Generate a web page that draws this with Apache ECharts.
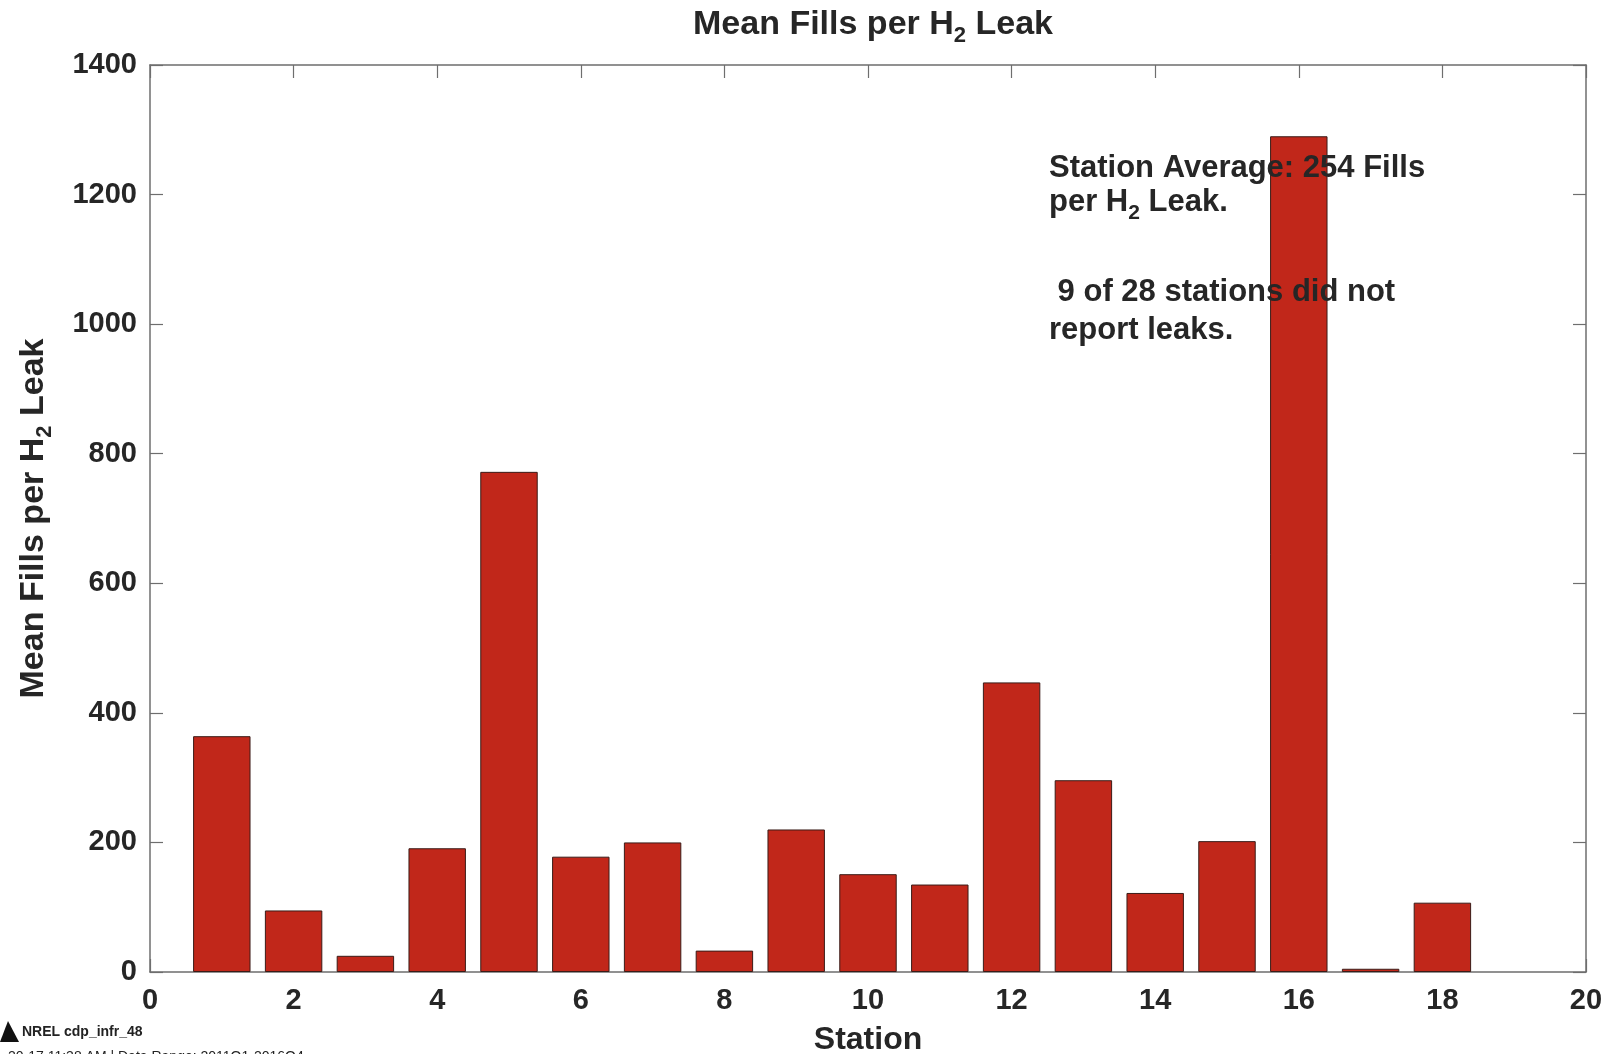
<!DOCTYPE html>
<html>
<head>
<meta charset="utf-8">
<script src="https://cdn.jsdelivr.net/npm/echarts@6/dist/echarts.min.js"></script>
<style>
html,body{margin:0;padding:0;background:#fff;}
#main{width:1616px;height:1054px;}
</style>
</head>
<body>
<div id="main"></div>
<script>
const stations = [1,2,3,4,5,6,7,8,9,10,11,12,13,14,15,16,17,18];
const meanFills = [364,95,25,191,772,178,200,33,220,151,135,447,296,122,202,1290,5,107];
const xTicks = {min:0, max:20, interval:2};
const yTicks = {min:0, max:1400, interval:200};
const titleText = ['Mean Fills per H','2',' Leak'];
const xTitle = 'Station';
const noteLines = ['Station Average: 254 Fills', 'per H', '2', ' Leak.', ' 9 of 28 stations did not', 'report leaks.'];
const footer1 = 'NREL cdp_infr_48';
const footer2 = '20-17 11:38 AM | Data Range: 2011Q1-2016Q4';

const FONT = '"Liberation Sans", Arial, Helvetica, sans-serif';
const TXT = '#262626';
const AX = '#6e6e6e';
const barData = stations.map((s,i)=>[s, meanFills[i]]);

const big = {fontFamily:FONT, fontWeight:'bold', fontSize:34, color:TXT};
const sub = {fontFamily:FONT, fontWeight:'bold', fontSize:22, color:TXT, padding:[22,0,0,0]};
const gBig = {fontFamily:FONT, fontWeight:'bold', fontSize:31, fill:TXT};
const gSub = {fontFamily:FONT, fontWeight:'bold', fontSize:21, fill:TXT, padding:[22,0,0,0]};

const chart = echarts.init(document.getElementById('main'), null, {renderer:'canvas'});
const axisCommon = {
  axisLine:{show:true, onZero:false, lineStyle:{color:AX, width:1.5}},
  axisTick:{show:true, inside:true, length:13, lineStyle:{color:AX, width:1.2}},
  splitLine:{show:false}
};
const plainNum = v => String(v);
chart.setOption({
  animation:false,
  backgroundColor:'#fff',
  title:{
    text:'{a|'+titleText[0]+'}{s|'+titleText[1]+'}{a|'+titleText[2]+'}',
    left:868, top:-2, textAlign:'center',
    textStyle:{rich:{a:big, s:sub}}
  },
  grid:{left:150, top:65, right:30, bottom:82, containLabel:false, outerBoundsMode:'none'},
  xAxis:[
    Object.assign({type:'value', position:'bottom', min:xTicks.min, max:xTicks.max, interval:xTicks.interval,
      name:xTitle, nameLocation:'middle', nameGap:52,
      nameTextStyle:{fontFamily:FONT, fontWeight:'bold', fontSize:32, color:TXT},
      axisLabel:{margin:14, fontFamily:FONT, fontWeight:'bold', fontSize:29, color:TXT, formatter:plainNum}}, axisCommon),
    Object.assign({type:'value', position:'top', min:xTicks.min, max:xTicks.max, interval:xTicks.interval,
      axisLabel:{show:false}}, axisCommon)
  ],
  yAxis:[
    Object.assign({type:'value', position:'left', min:yTicks.min, max:yTicks.max, interval:yTicks.interval,
      name:'{a|Mean Fills per H}{s|2}{a| Leak}', nameLocation:'middle', nameGap:94, nameRotate:90,
      nameTextStyle:{rich:{a:big, s:sub}},
      axisLabel:{margin:13, fontFamily:FONT, fontWeight:'bold', fontSize:29, color:TXT, formatter:plainNum}}, axisCommon),
    Object.assign({type:'value', position:'right', min:yTicks.min, max:yTicks.max, interval:yTicks.interval,
      axisLabel:{show:false}}, axisCommon)
  ],
  series:[{
    type:'bar', xAxisIndex:0, yAxisIndex:0,
    data:barData, barWidth:'80%',
    itemStyle:{color:'#C1271A', borderColor:'#3a1c18', borderWidth:1}
  }],
  graphic:[
    {type:'text', left:1049, top:153, z:100,
      style:{text:noteLines[0], font:'bold 31px '+FONT, fill:TXT}},
    {type:'text', left:1049, top:187, z:100,
      style:{text:'{a|'+noteLines[1]+'}{s|'+noteLines[2]+'}{a|'+noteLines[3]+'}',
        rich:{a:gBig, s:gSub}}},
    {type:'text', left:1049, top:277, z:100,
      style:{text:noteLines[4], font:'bold 31px '+FONT, fill:TXT, whiteSpace:'pre'}},
    {type:'text', left:1049, top:315, z:100,
      style:{text:noteLines[5], font:'bold 31px '+FONT, fill:TXT}},
    {type:'polygon', z:100, shape:{points:[[0,1042],[8,1021],[19,1042]]}, style:{fill:'#111'}},
    {type:'text', left:22, top:1025, z:100,
      style:{text:footer1, font:'bold 14px '+FONT, fill:'#222'}},
    {type:'text', left:8, top:1050, z:100,
      style:{text:footer2, font:'14px '+FONT, fill:'#222'}}
  ]
});
</script>
</body>
</html>
